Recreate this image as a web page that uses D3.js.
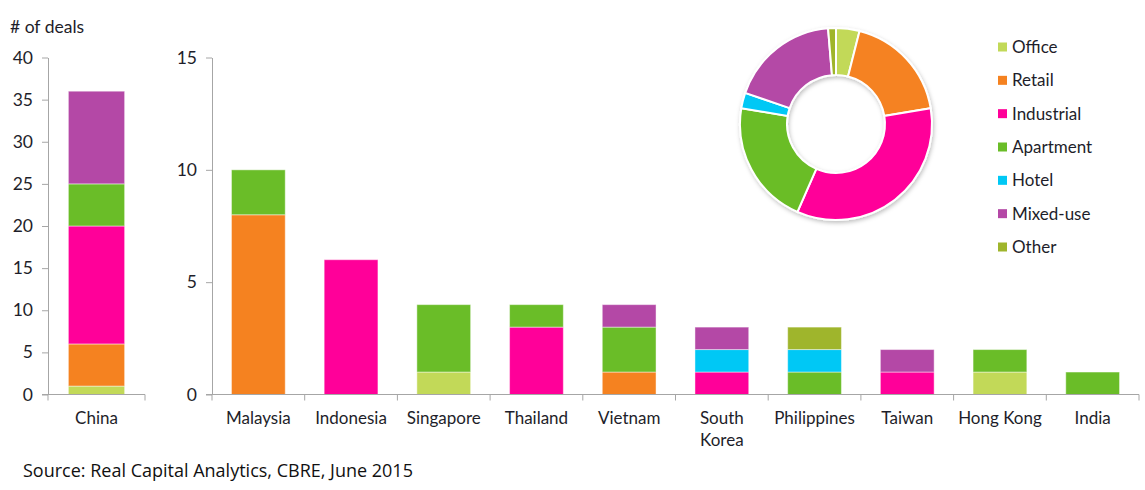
<!DOCTYPE html>
<html><head><meta charset="utf-8">
<script src="https://cdn.jsdelivr.net/npm/d3@7"></script>
<style>
html,body{margin:0;padding:0;background:#fff;}
svg{display:block;}
text{font-family:Lato,"Open Sans",sans-serif;}
</style></head>
<body><svg id="c" width="1145" height="490"></svg>
<script>
const categories = ["China","Malaysia","Indonesia","Singapore","Thailand","Vietnam","South Korea","Philippines","Taiwan","Hong Kong","India"];
const types = ["Office","Retail","Industrial","Apartment","Hotel","Mixed-use","Other"];
const office     = [1,0,0,1,0,0,0,0,0,1,0];
const retail     = [5,8,0,0,0,1,0,0,0,0,0];
const industrial = [14,0,6,0,3,0,1,0,1,0,0];
const apartment  = [5,2,0,3,1,2,0,1,0,1,1];
const hotel      = [0,0,0,0,0,0,1,1,0,0,0];
const mixedUse   = [11,0,0,0,0,1,1,0,1,0,0];
const other      = [0,0,0,0,0,0,0,1,0,0,0];
const donutValues = [3,14,26,16,2,14,1];
const leftTicks = [0,5,10,15,20,25,30,35,40];
const rightTicks = [0,5,10,15];
const colors = ["#c2d958","#f58220","#ff0099","#6abd28","#00c8f5","#b448a6","#9fb52c"];

const series = [office,retail,industrial,apartment,hotel,mixedUse,other];
const rows = categories.map((c,i)=>{const o={cat:c}; types.forEach((t,j)=>o[t]=series[j][i]); return o;});
const stacked = d3.stack().keys(types)(rows);
const color = d3.scaleOrdinal().domain(types).range(colors);

const svg = d3.select("#c");
const axisColor = "#a6a6a6", textColor = "#1e1e2a";
const fs = "17px";

const defs = svg.append("defs");
const f = defs.append("filter").attr("id","sh").attr("x","-20%").attr("y","-20%").attr("width","140%").attr("height","140%");
f.append("feDropShadow").attr("dx",1).attr("dy",2).attr("stdDeviation",2).attr("flood-color","#000").attr("flood-opacity",0.25);

function panel(cats, x0, x1, yMax, ticks){
  const yTop = 57.5, yBot = 394.5;
  const x = d3.scaleBand().domain(cats).range([x0,x1]).paddingInner(0.42).paddingOuter(0.21);
  const y = d3.scaleLinear().domain([0,yMax]).range([yBot,yTop]);
  const g = svg.append("g");
  stacked.forEach(s=>{
    g.selectAll(null).data(s.filter(d=>cats.includes(d.data.cat) && d[1]>d[0])).enter().append("rect")
      .attr("x",d=>x(d.data.cat)).attr("width",x.bandwidth())
      .attr("y",d=>y(d[1])).attr("height",d=>y(d[0])-y(d[1]))
      .attr("fill",color(s.key)).attr("stroke","rgba(255,255,255,0.45)").attr("stroke-width",1);
  });
  const ya = g.append("g").attr("transform",`translate(${x0},0)`)
    .call(d3.axisLeft(y).tickValues(ticks).tickSize(6).tickPadding(9).tickSizeOuter(0));
  ya.select(".domain").attr("stroke",axisColor);
  ya.selectAll(".tick line").attr("stroke",axisColor);
  ya.selectAll("text").attr("fill",textColor).style("font-size","17.5px").style("font-family","Lato, sans-serif");
  g.append("line").attr("x1",x0-6).attr("x2",x1).attr("y1",yBot).attr("y2",yBot).attr("stroke",axisColor);
  const bx = [x0].concat(cats.map((c,i)=>x0 + (i+1)*(x1-x0)/cats.length));
  g.selectAll(null).data(bx).enter().append("line")
    .attr("x1",d=>d).attr("x2",d=>d).attr("y1",yBot).attr("y2",yBot+6).attr("stroke",axisColor);
  const lab = g.selectAll(null).data(cats).enter().append("text")
    .attr("x",c=>x(c)+x.bandwidth()/2).attr("y",424).attr("text-anchor","middle")
    .attr("fill",textColor).style("font-size",fs);
  lab.each(function(c){
    const parts = c==="South Korea" ? ["South","Korea"] : [c];
    d3.select(this).selectAll("tspan").data(parts).enter().append("tspan")
      .attr("x",x(c)+x.bandwidth()/2).attr("dy",(d,i)=>i?22:0).text(d=>d);
  });
}
panel(categories.slice(0,1), 48, 145, 40, leftTicks);
panel(categories.slice(1), 212, 1139, 15, rightTicks);

svg.append("text").attr("x",10).attr("y",33).attr("fill",textColor).style("font-size","17.5px").text("# of deals");

const pie = d3.pie().sort(null).value(d=>d)(donutValues);
const arc = d3.arc().innerRadius(49).outerRadius(96);
const dg = svg.append("g").attr("transform","translate(836,124)");
dg.append("g").attr("filter","url(#sh)").selectAll("path").data(pie).enter().append("path")
  .attr("d",arc).attr("fill",(d,i)=>colors[i]).attr("stroke","#fff").attr("stroke-width",2);

const lg = svg.append("g");
const ly = d3.scaleLinear().domain([0,types.length-1]).range([47,247]);
types.forEach((t,i)=>{
  lg.append("rect").attr("x",998).attr("y",ly(i)-4.5).attr("width",9).attr("height",9).attr("fill",colors[i]);
  lg.append("text").attr("x",1012).attr("y",ly(i)+6).attr("fill",textColor).style("font-size",fs).text(t);
});

svg.append("text").attr("x",23).attr("y",477).attr("fill","#111")
  .style("font-family","'Open Sans', sans-serif").style("font-size","18px")
  .text("Source: Real Capital Analytics, CBRE, June 2015");
</script></body></html>
